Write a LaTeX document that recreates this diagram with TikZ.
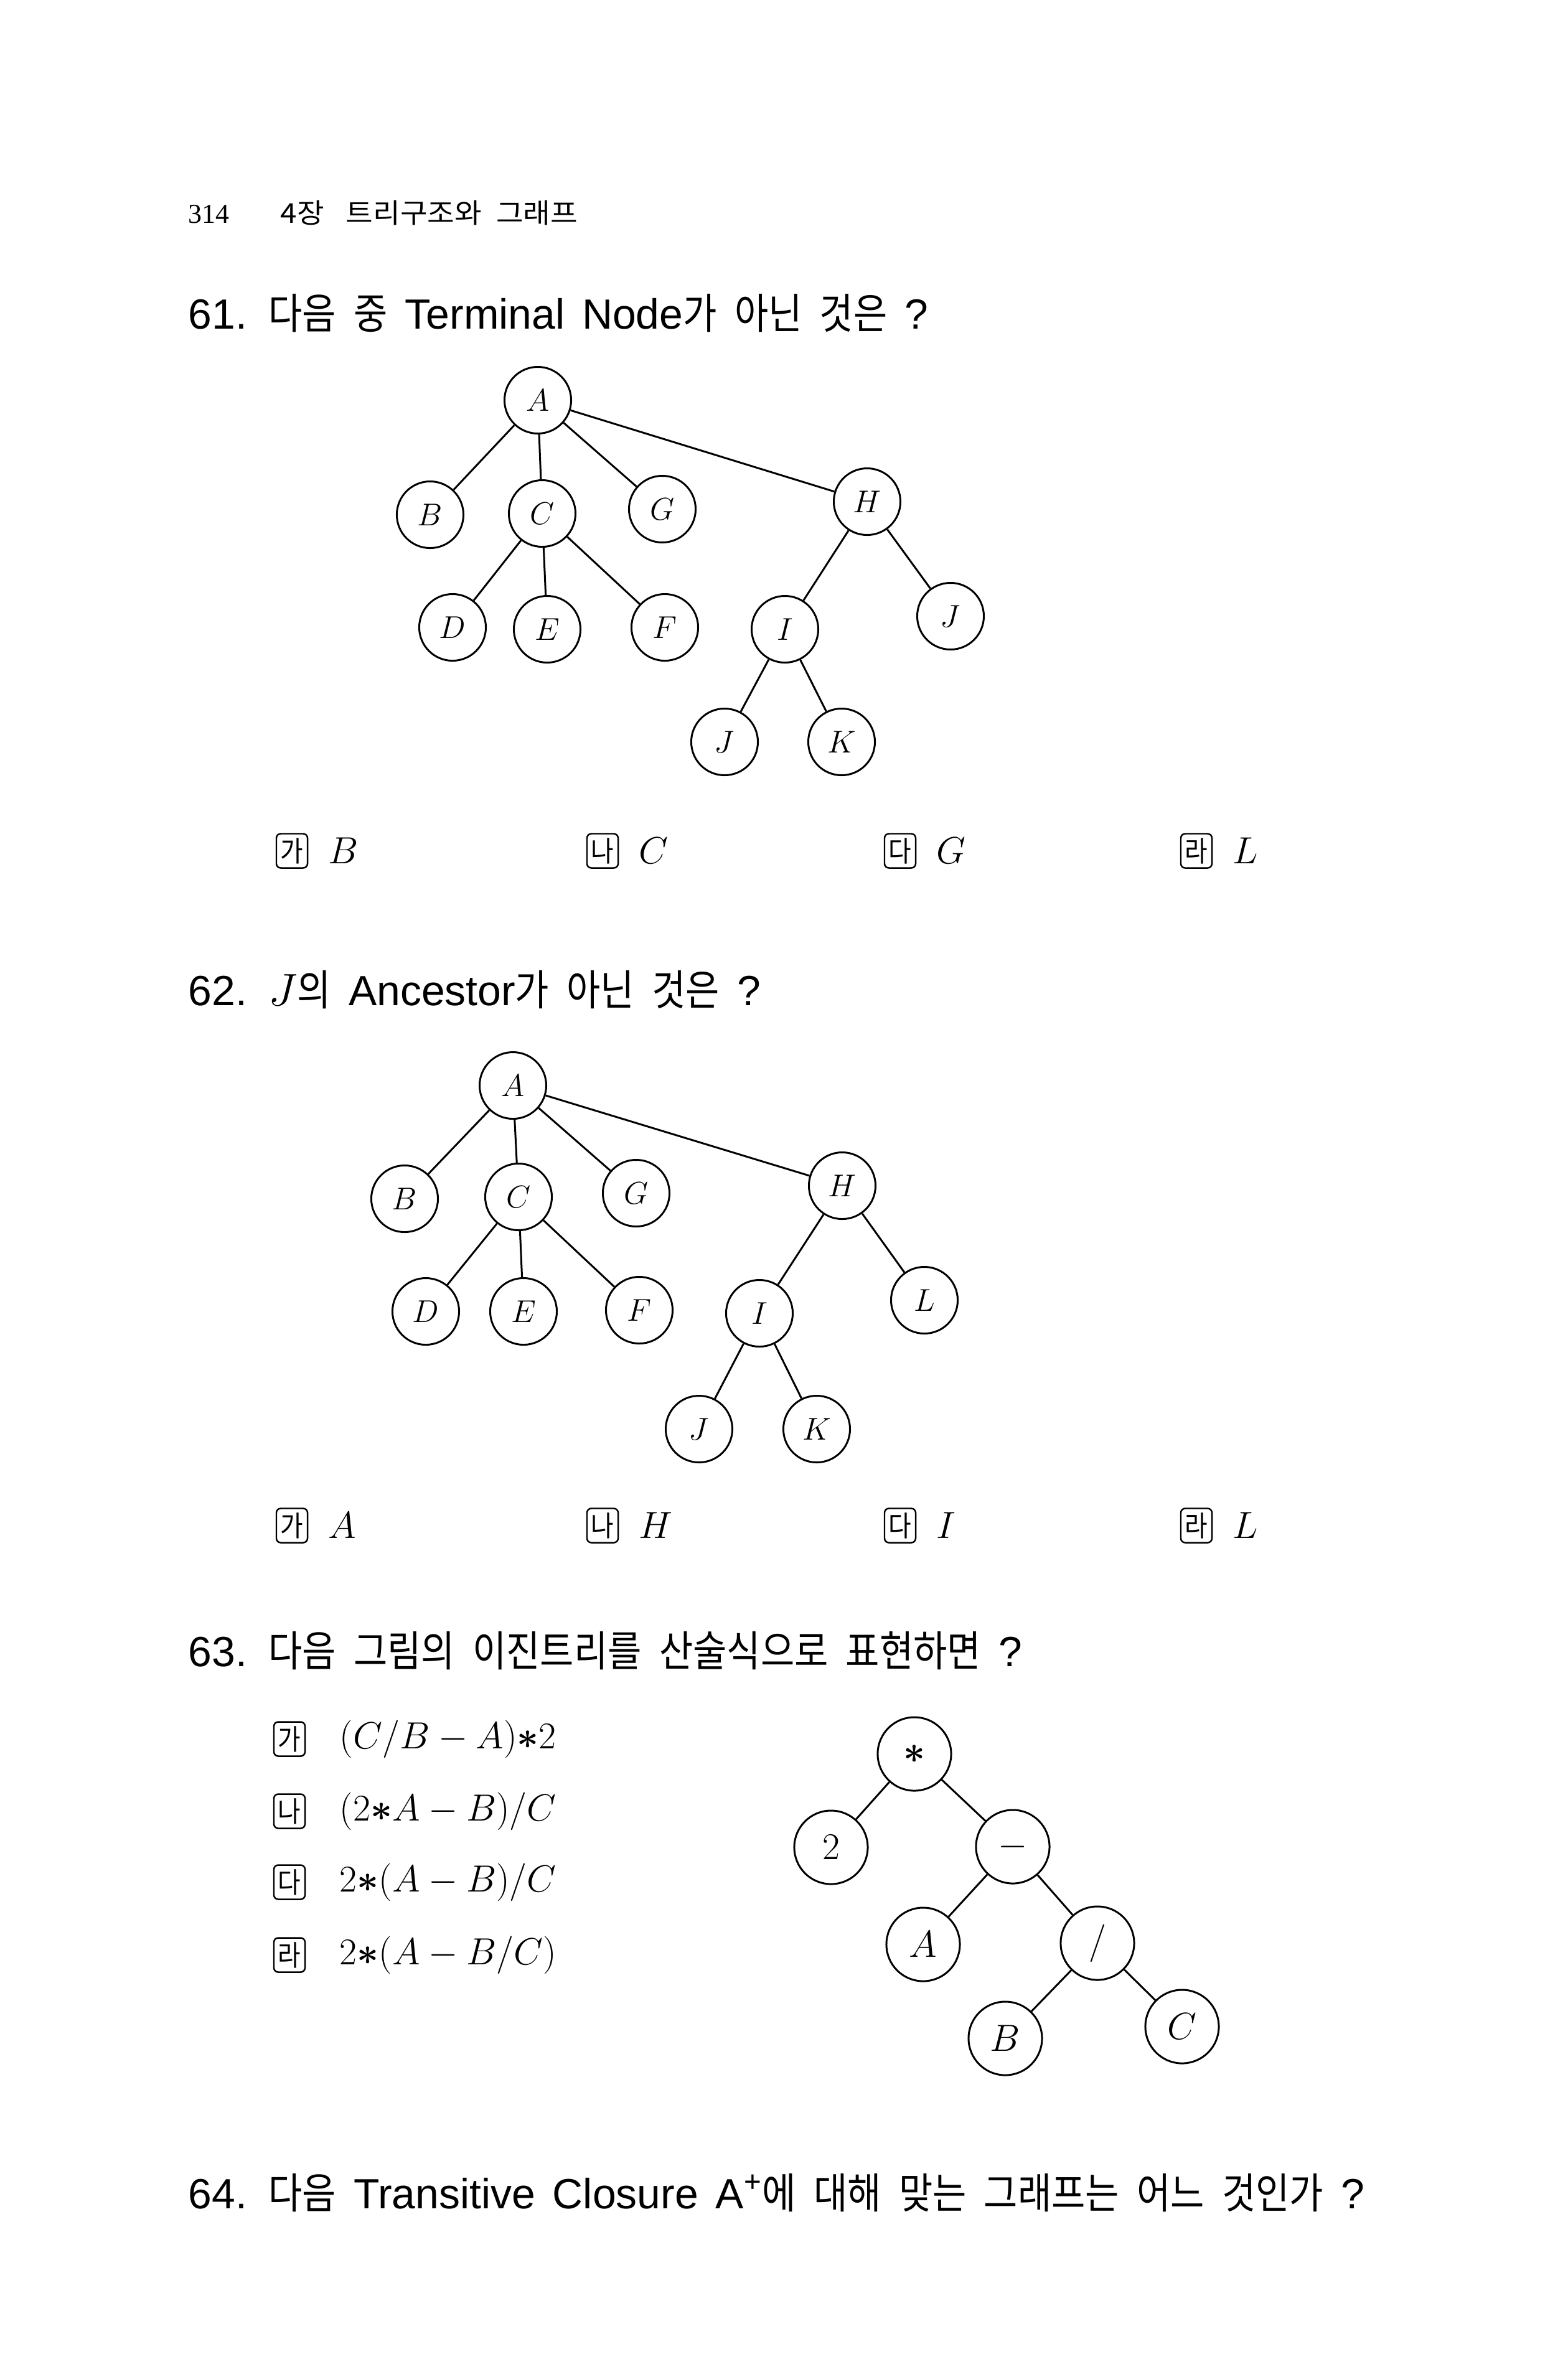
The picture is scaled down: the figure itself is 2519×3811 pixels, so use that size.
\documentclass[tikz,border=0pt]{standalone}
\usepackage{amsmath}
\usepackage{bm}
\usepackage{fontspec}
\usetikzlibrary{positioning}
\newfontfamily\kr[FakeStretch=0.87]{Noto Sans CJK KR}
\newfontfamily\krhead[FakeStretch=1.08]{Noto Sans CJK KR}
\newfontfamily\lat{Liberation Sans}
\newfontfamily\numfont{Liberation Serif}
\newcommand{\ko}[1]{{\kr #1}}
\newcommand{\qfont}{\lat\fontsize{19.3}{22}\selectfont\spaceskip=8pt\relax}

\begin{document}
\begin{tikzpicture}[x=0.01cm, y=-0.01cm]
\tikzstyle{vertex} = [circle, draw, line width=0.85pt, minimum size=1.07cm, inner sep=0pt, font=\fontsize{15.8}{16}\selectfont]
\tikzstyle{opvertex} = [vertex, minimum size=1.18cm, font=\fontsize{16.5}{17}\selectfont]
\tikzstyle{edge} = [line width=0.85pt]
\tikzstyle{title} = [anchor=base west, inner sep=0pt, font=\qfont]
\tikzstyle{optbox} = [draw, rounded corners=2pt, line width=0.7pt, minimum width=0.5cm, minimum height=0.55cm, inner sep=0pt, font=\kr\fontsize{13}{13}\selectfont]
\tikzstyle{answer} = [anchor=west, inner sep=0pt, font=\fontsize{16}{18}\selectfont]

\useasboundingbox (0,0) rectangle (2519,3811);

% page header
\node [anchor=base west, inner sep=0pt, font=\numfont\fontsize{12.5}{13}\selectfont] (pageno) at (302,358) {314};
\node [anchor=base west, inner sep=0pt, font=\krhead\fontsize{12.5}{13}\selectfont] (chapter) at (450,358) {4장\hspace{10pt}트리구조와\hspace{6.5pt}그래프};

% question 61
\node [title] (q61) at (302,528) {61. \ko{다음 중} Terminal Node\ko{가 아닌 것은} ?};
\node [vertex] (a1) at (864,643) {$A$};
\node [vertex] (b1) at (691,827) {$B$};
\node [vertex] (c1) at (871,825) {$C$};
\node [vertex] (g1) at (1064,818) {$G$};
\node [vertex] (h1) at (1393,806) {$H$};
\node [vertex] (d1) at (727,1008) {$D$};
\node [vertex] (e1) at (879,1011) {$E$};
\node [vertex] (f1) at (1068,1008) {$F$};
\node [vertex] (i1) at (1261,1011) {$I$};
\node [vertex] (jr1) at (1527,990) {$J$};
\node [vertex] (j1) at (1164,1192) {$J$};
\node [vertex] (k1) at (1352,1192) {$K$};
\foreach \p/\c in {a1/b1, a1/c1, a1/g1, a1/h1, c1/d1, c1/e1, c1/f1, h1/i1, h1/jr1, i1/j1, i1/k1}
  \draw [edge] (\p) -- (\c);

\node [optbox] (m61a) at (469,1367) {가};
\node [optbox] (m61b) at (968,1367) {나};
\node [optbox] (m61c) at (1446,1367) {다};
\node [optbox] (m61d) at (1922,1367) {라};
\node [answer, right=0.32cm of m61a] (ans61a) {$B$};
\node [answer, right=0.32cm of m61b] (ans61b) {$C$};
\node [answer, right=0.32cm of m61c] (ans61c) {$G$};
\node [answer, right=0.32cm of m61d] (ans61d) {$L$};

% question 62
\node [title] (q62) at (302,1615) {62. $J$\ko{의} Ancestor\ko{가 아닌 것은} ?};
\node [vertex] (a2) at (824,1744) {$A$};
\node [vertex] (b2) at (650,1926) {$B$};
\node [vertex] (c2) at (833,1923) {$C$};
\node [vertex] (g2) at (1022,1917) {$G$};
\node [vertex] (h2) at (1353,1905) {$H$};
\node [vertex] (d2) at (684,2107) {$D$};
\node [vertex] (e2) at (841,2107) {$E$};
\node [vertex] (f2) at (1027,2105) {$F$};
\node [vertex] (i2) at (1220,2110) {$I$};
\node [vertex] (l2) at (1485,2089) {$L$};
\node [vertex] (j2) at (1123,2296) {$J$};
\node [vertex] (k2) at (1312,2296) {$K$};
\foreach \p/\c in {a2/b2, a2/c2, a2/g2, a2/h2, c2/d2, c2/e2, c2/f2, h2/i2, h2/l2, i2/j2, i2/k2}
  \draw [edge] (\p) -- (\c);

\node [optbox] (m62a) at (469,2451) {가};
\node [optbox] (m62b) at (968,2451) {나};
\node [optbox] (m62c) at (1446,2451) {다};
\node [optbox] (m62d) at (1922,2451) {라};
\node [answer, right=0.32cm of m62a] (ans62a) {$A$};
\node [answer, right=0.32cm of m62b] (ans62b) {$H$};
\node [answer, right=0.32cm of m62c] (ans62c) {$I$};
\node [answer, right=0.32cm of m62d] (ans62d) {$L$};

% question 63
\node [title] (q63) at (302,2677) {63. \ko{다음 그림의 이진트리를 산술식으로 표현하면} ?};
\node [optbox] (m63a) at (465,2794) {가};
\node [optbox] (m63b) at (465,2910) {나};
\node [optbox] (m63c) at (465,3024) {다};
\node [optbox] (m63d) at (465,3141) {라};
\node [answer, right=0.54cm of m63a] (ans63a) {$(C/B-A){\bm{*}}2$};
\node [answer, right=0.54cm of m63b] (ans63b) {$(2{\bm{*}}A-B)/C$};
\node [answer, right=0.54cm of m63c] (ans63c) {$2{\bm{*}}(A-B)/C$};
\node [answer, right=0.54cm of m63d] (ans63d) {$2{\bm{*}}(A-B/C)$};

\node [opvertex] (times) at (1469,2818) {$\bm{\ast}$};
\node [opvertex] (two) at (1335,2968) {$2$};
\node [opvertex] (minus) at (1627,2967) {$-$};
\node [opvertex] (a3) at (1483,3124) {$A$};
\node [opvertex] (div) at (1763,3122) {$/$};
\node [opvertex] (b3) at (1615,3275) {$B$};
\node [opvertex] (c3) at (1899,3256) {$C$};
\foreach \p/\c in {times/two, times/minus, minus/a3, minus/div, div/b3, div/c3}
  \draw [edge] (\p) -- (\c);

% question 64
\node [title] (q64) at (302,3548) {64. \ko{다음} Transitive Closure A\textsuperscript{+}\ko{에 대해 맞는 그래프는 어느 것인가} ?};
\end{tikzpicture}
\end{document}
